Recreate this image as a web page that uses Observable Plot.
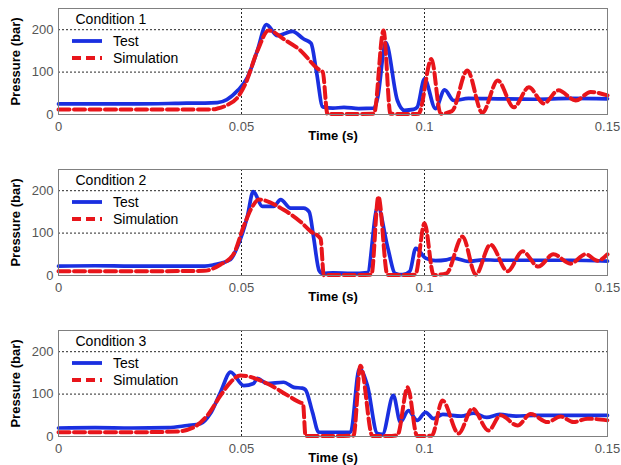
<!DOCTYPE html>
<html>
<head>
<meta charset="utf-8">
<script src="https://cdn.jsdelivr.net/npm/d3@7"></script>
<script src="https://cdn.jsdelivr.net/npm/@observablehq/plot@0.6"></script>
<style>
  body { margin: 0; background: #fff; }
  #chart { width: 621px; }
  #chart svg { display: block; }
</style>
</head>
<body>
<div id="chart"></div>
<script>
// ---- data ----
const conditions = ["Condition 1", "Condition 2", "Condition 3"];
const seriesNames = ["Test", "Simulation"];
const xTicks = [0, 0.05, 0.1, 0.15];
const xTickLabels = ["0", "0.05", "0.1", "0.15"];
const yTicks = [0, 100, 200];
const yTickLabels = ["0", "100", "200"];

const t1Test = [0, 0.01, 0.02, 0.03, 0.035, 0.04, 0.0434, 0.046, 0.049, 0.0516, 0.0543, 0.0568, 0.0598, 0.0639, 0.067, 0.069, 0.0705, 0.0722, 0.075, 0.078, 0.082, 0.0862, 0.0872, 0.0894, 0.0926, 0.0945, 0.097, 0.098, 0.1, 0.103, 0.1055, 0.108, 0.112, 0.12, 0.13, 0.14, 0.15];
const p1Test = [25, 25, 25, 26, 27, 27, 28, 35, 57, 87, 150, 212, 186, 196, 178, 168, 100, 18, 15, 17, 14, 15, 40, 170, 33, 10, 12, 17, 84, 14, 58, 33, 38, 37, 36, 38, 37];
const t1Sim = [0, 0.02, 0.042, 0.0434, 0.046, 0.049, 0.0511, 0.0544, 0.0574, 0.062, 0.0661, 0.0708, 0.0722, 0.0735, 0.08, 0.0862, 0.0888, 0.0907, 0.095, 0.0984, 0.1019, 0.1044, 0.1075, 0.1117, 0.1158, 0.12, 0.1244, 0.1285, 0.1326, 0.1366, 0.1413, 0.1454, 0.15];
const p1Sim = [12, 12, 12, 14, 22, 41, 73, 151, 198, 175, 151, 108, 100, 1, 1, 2, 198, 2, 1, 2, 131, 2, 8, 104, 4, 80, 17, 64, 26, 57, 33, 53, 45];

const t2Test = [0, 0.01, 0.02, 0.03, 0.04, 0.0424, 0.047, 0.0489, 0.0516, 0.0532, 0.0557, 0.0588, 0.0607, 0.0634, 0.067, 0.0685, 0.0697, 0.0712, 0.0722, 0.075, 0.08, 0.0844, 0.0872, 0.0899, 0.092, 0.094, 0.096, 0.0976, 0.1003, 0.103, 0.106, 0.108, 0.112, 0.116, 0.12, 0.13, 0.14, 0.15];
const p2Test = [22, 23, 22, 22, 22, 25, 38, 68, 139, 198, 163, 163, 179, 159, 159, 150, 90, 12, 5, 6, 5, 7, 163, 68, 5, 2, 10, 64, 41, 35, 37, 41, 33, 37, 36, 36, 36, 34];
const t2Sim = [0, 0.02, 0.0397, 0.0443, 0.0478, 0.0506, 0.053, 0.0547, 0.0615, 0.0661, 0.0689, 0.0716, 0.0725, 0.08, 0.0855, 0.0874, 0.0899, 0.095, 0.0975, 0.1, 0.1025, 0.106, 0.1104, 0.114, 0.118, 0.1227, 0.1268, 0.1311, 0.1352, 0.1399, 0.144, 0.1473, 0.15];
const p2Sim = [10, 10, 11, 26, 50, 116, 163, 179, 155, 127, 104, 87, 1, 1, 2, 186, 1, 1, 2, 123, 1, 5, 92, 2, 73, 10, 57, 21, 50, 28, 50, 35, 50];

const t3Test = [0, 0.01, 0.02, 0.03, 0.0352, 0.0388, 0.0415, 0.0443, 0.047, 0.0506, 0.0533, 0.0543, 0.057, 0.0615, 0.0643, 0.0666, 0.0675, 0.0694, 0.0711, 0.075, 0.0798, 0.0822, 0.0844, 0.0871, 0.0885, 0.0915, 0.0934, 0.0956, 0.098, 0.1003, 0.1025, 0.105, 0.11, 0.1135, 0.117, 0.1205, 0.125, 0.13, 0.14, 0.15];
const p3Test = [20, 21, 20, 21, 26, 30, 54, 105, 152, 120, 125, 137, 125, 128, 116, 114, 110, 57, 10, 10, 10, 160, 120, 7, 5, 97, 34, 61, 38, 57, 42, 52, 48, 55, 45, 52, 48, 50, 50, 50];
const t3Sim = [0, 0.02, 0.0325, 0.037, 0.0407, 0.0443, 0.047, 0.0497, 0.057, 0.0626, 0.0661, 0.0668, 0.0675, 0.075, 0.0806, 0.0825, 0.0858, 0.09, 0.0926, 0.0954, 0.098, 0.102, 0.1049, 0.1093, 0.1131, 0.1175, 0.1208, 0.1254, 0.129, 0.1336, 0.1372, 0.1407, 0.1445, 0.15];
const p3Sim = [10, 10, 12, 22, 50, 97, 128, 144, 125, 97, 80, 78, 1, 1, 2, 167, 1, 1, 3, 116, 1, 2, 85, 7, 66, 14, 50, 26, 53, 34, 47, 34, 42, 38];

const panels = [
  {title: conditions[0], tTest: t1Test, pTest: p1Test, tSim: t1Sim, pSim: p1Sim},
  {title: conditions[1], tTest: t2Test, pTest: p2Test, tSim: t2Sim, pSim: p2Sim},
  {title: conditions[2], tTest: t3Test, pTest: p3Test, tSim: t3Sim, pSim: p3Sim}
];

// ---- style ----
const blue = "#1a2fe0";
const red = "#e8151b";
const font = "'Liberation Sans', Arial, sans-serif";
const xLabelMap = new Map(xTicks.map((d, i) => [d, xTickLabels[i]]));
const yLabelMap = new Map(yTicks.map((d, i) => [d, yTickLabels[i]]));

const container = document.getElementById("chart");

panels.forEach((pn, k) => {
  const test = pn.tTest.map((t, i) => ({t, p: pn.pTest[i]}));
  const sim = pn.tSim.map((t, i) => ({t, p: pn.pSim[i]}));
  const svg = Plot.plot({
    width: 621,
    height: 161,
    marginLeft: 58,
    marginRight: 14,
    marginTop: 8,
    marginBottom: 47,
    style: {fontFamily: font, fontSize: "13px", background: "#fff", color: "#000"},
    x: {domain: [0, 0.15]},
    y: {domain: [0, 250]},
    marks: [
      Plot.gridX([0.05, 0.1], {stroke: "#000", strokeOpacity: 0.85, strokeDasharray: "2,2", strokeWidth: 1}),
      Plot.gridY([100, 200], {stroke: "#000", strokeOpacity: 0.85, strokeDasharray: "2,2", strokeWidth: 1}),
      Plot.axisX(xTicks, {tickSize: 0, tickPadding: 7, tickFormat: d => xLabelMap.get(d), label: null, fill: "#555", fontSize: 13}),
      Plot.axisY(yTicks, {tickSize: 0, tickPadding: 5, tickFormat: d => yLabelMap.get(d), label: null, fill: "#555", fontSize: 13}),
      Plot.line(test, {x: "t", y: "p", stroke: blue, strokeWidth: 3.7, curve: "monotone-x"}),
      Plot.line(sim, {x: "t", y: "p", stroke: red, strokeWidth: 4, strokeDasharray: "11,4.5", curve: "monotone-x"}),
      Plot.frame({stroke: "#808080", strokeWidth: 1}),
      Plot.text(["Time (s)"], {text: d => d, frameAnchor: "bottom", dy: 21, lineAnchor: "middle", fontWeight: "bold", fontSize: 13, fill: "#000"}),
      Plot.text(["Pressure (bar)"], {text: d => d, frameAnchor: "left", textAnchor: "middle", lineAnchor: "middle", dx: -43, rotate: -90, fontWeight: "bold", fontSize: 13, fill: "#000"}),
      Plot.text([pn.title], {text: d => d, frameAnchor: "top-left", textAnchor: "start", lineAnchor: "middle", dx: 17, dy: 11, fontSize: 14, fill: "#000"})
    ]
  });
  // legend swatches + labels
  const g = d3.select(svg).append("g").attr("font-family", font).attr("font-size", 14).attr("text-anchor", "start");
  const rows = [
    {name: seriesNames[0], color: blue, dash: null, y: 41},
    {name: seriesNames[1], color: red, dash: "9,5", y: 58}
  ];
  rows.forEach(r => {
    const ln = g.append("line").attr("x1", 72).attr("x2", 102).attr("y1", r.y).attr("y2", r.y)
      .attr("stroke", r.color).attr("stroke-width", 3.8);
    if (r.dash) ln.attr("stroke-dasharray", r.dash);
    g.append("text").attr("x", 113).attr("y", r.y).attr("dy", "0.35em").attr("fill", "#000").text(r.name);
  });
  container.appendChild(svg);
});
</script>
</body>
</html>
